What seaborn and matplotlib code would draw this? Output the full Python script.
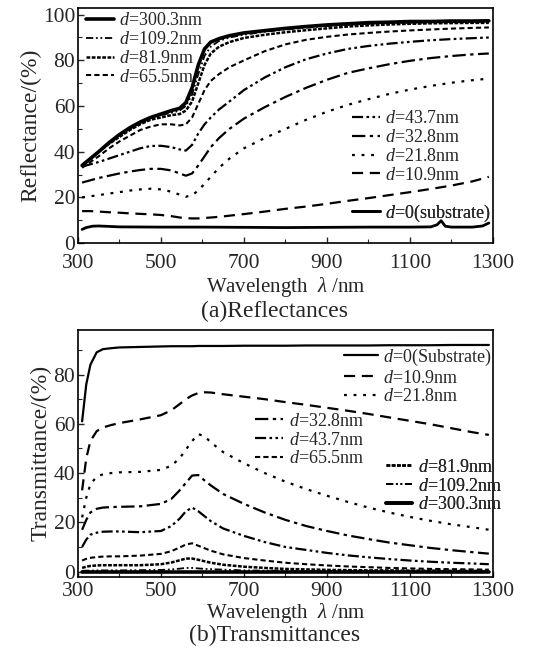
import matplotlib
matplotlib.use('Agg')
import matplotlib.pyplot as plt
import seaborn as sns

# ---- reflectance data (top panel) ----
wl_r = [310, 330, 350, 375, 400, 425, 450, 475, 500, 525, 545, 560, 575, 590, 605, 620,
        640, 665, 700, 750, 800, 850, 900, 950, 1000, 1050, 1100, 1150, 1200, 1250, 1290]
r_300_3 = [34, 37, 40, 44, 47.5, 50.5, 53, 55, 56.5, 58, 59, 61.5, 68, 78, 85, 88,
           89.5, 90.8, 92, 93, 94, 94.8, 95.5, 96, 96.5, 96.7, 97, 97, 97.2, 97.2, 97.3]
r_109_2 = [34, 37, 40, 43.5, 47, 50, 52.5, 54.5, 56, 57, 58, 60, 65, 74, 82, 86,
           88.5, 90, 91.2, 92.5, 93.5, 94.3, 95, 95.5, 96, 96.3, 96.5, 96.6, 96.7, 96.8, 96.8]
r_81_9 = [34, 37, 40, 43.5, 46.5, 49.5, 52, 54, 55, 56, 56.5, 58, 62, 70, 78, 83,
          86, 88, 89.8, 91.2, 92.3, 93.2, 94, 94.8, 95.3, 95.7, 96, 96.2, 96.3, 96.4, 96.4]
r_65_5 = [33, 35.5, 38, 41.5, 44.5, 47, 49.5, 51, 52, 52, 51.5, 52, 55, 61, 67, 71,
          74, 77, 80, 84, 87, 89, 90.3, 91.3, 92, 92.6, 93.1, 93.5, 93.9, 94.2, 94.4]
r_43_7 = [33.5, 34.5, 35.5, 37, 38.5, 40, 41.5, 42.5, 42.6, 42, 41, 40.5, 43, 48, 52, 55,
          58.5, 62, 67, 72.5, 77, 80.5, 83, 85, 86.3, 87.3, 88.1, 88.8, 89.3, 89.7, 90]
r_32_8 = [26.5, 27.5, 28.5, 29.5, 30.5, 31.3, 32, 32.5, 32.5, 31.8, 30.5, 29.5, 30.5, 34, 38, 42,
          46, 50, 54.5, 59.5, 64, 68, 71.5, 74.5, 76.5, 78.3, 79.8, 81, 81.9, 82.6, 83]
r_21_8 = [20, 20.5, 21, 21.7, 22.3, 23, 23.5, 23.8, 23.5, 22.5, 21.2, 20.3, 21, 23, 26, 29,
          33, 37, 41.5, 46, 50, 54, 57.5, 60.5, 63, 65.3, 67.2, 68.8, 70.2, 71.3, 72]
r_10_9 = [14, 14, 13.8, 13.5, 13.3, 13, 12.8, 12.6, 12.3, 11.8, 11.2, 10.9, 10.8, 10.8, 11, 11.2,
          11.5, 12, 12.7, 13.8, 15, 16, 17.2, 18.5, 19.7, 21, 22.3, 23.7, 25.2, 27, 29]
wl_r0 = [310, 320, 335, 350, 400, 500, 600, 700, 800, 900, 1000, 1100, 1150, 1165, 1175, 1185,
         1200, 1250, 1275, 1290]
r_0 = [6, 6.8, 7.4, 7.5, 7.1, 7, 7, 6.9, 6.8, 6.9, 7, 7, 7.1, 8, 9.8, 7.4, 7, 7, 7.5, 8.8]

# ---- transmittance data (bottom panel) ----
wl_t = [310, 320, 330, 345, 360, 380, 400, 450, 500, 525, 545, 560, 575, 590, 605, 620,
        650, 700, 750, 800, 850, 900, 950, 1000, 1050, 1100, 1150, 1200, 1250, 1290]
t_0 = [61, 76, 84, 89, 90.3, 90.7, 91, 91.2, 91.4, 91.5, 91.5, 91.5, 91.5, 91.6, 91.6, 91.6,
       91.6, 91.7, 91.7, 91.7, 91.8, 91.8, 91.8, 91.8, 91.9, 91.9, 91.9, 92, 92, 92]
t_10_9 = [33, 46, 53, 57, 58.5, 59.5, 60.3, 61.8, 63.5, 65.5, 68, 70, 71.5, 72.5, 72.8, 72.7,
          72, 71, 70, 68.8, 67.7, 66.5, 65.3, 64, 62.6, 61.2, 59.8, 58.2, 56.6, 55.5]
t_21_8 = [22, 30, 35.5, 38.5, 39.5, 40, 40.3, 40.5, 41.3, 43, 46, 49.5, 53, 55.8, 55, 52.5,
          48.5, 44, 40, 36.5, 33.5, 30.8, 28.3, 26, 24, 22.2, 20.6, 19.2, 18, 17]
t_32_8 = [17, 21, 24, 25.5, 26, 26.2, 26.3, 26.5, 27.5, 29.5, 33, 36, 39, 39.2, 37, 35,
          31.5, 27.5, 24, 21, 18.5, 16.5, 14.7, 13.2, 11.8, 10.7, 9.6, 8.7, 7.9, 7.3]
t_43_7 = [10, 13, 15, 15.8, 16.2, 16.3, 16.3, 16, 16.5, 18.5, 21.5, 24.5, 26, 24.5, 22.5, 20.5,
          17.5, 14.5, 12, 10, 8.8, 7.6, 6.6, 5.8, 5.1, 4.5, 4, 3.6, 3.3, 3]
t_65_5 = [4.5, 5.2, 5.6, 5.9, 6.1, 6.2, 6.2, 6.5, 7.2, 8.3, 9.8, 11, 11.5, 10.5, 9.5, 8.5,
          7, 5.5, 4.5, 3.6, 3, 2.5, 2.1, 1.8, 1.5, 1.3, 1.1, 1, 0.9, 0.8]
t_81_9 = [1.5, 2, 2.3, 2.5, 2.6, 2.6, 2.6, 2.6, 3, 3.7, 4.6, 5.3, 5.3, 4.8, 4.2, 3.6,
          2.8, 2, 1.5, 1.1, 0.9, 0.7, 0.6, 0.5, 0.5, 0.4, 0.4, 0.3, 0.3, 0.3]
t_109_2 = [0.3, 0.4, 0.4, 0.5, 0.5, 0.5, 0.5, 0.6, 0.7, 0.9, 1.2, 1.5, 1.5, 1.3, 1.1, 1.0,
           0.8, 0.5, 0.4, 0.3, 0.3, 0.2, 0.2, 0.2, 0.2, 0.1, 0.1, 0.1, 0.1, 0.1]
t_300_3 = [0.0] * len(wl_t)

x_ticks = [300, 500, 700, 900, 1100, 1300]

sns.set_style('ticks')
plt.rcParams['font.family'] = ['Liberation Serif', 'DejaVu Serif']
plt.rcParams['mathtext.fontset'] = 'custom'
plt.rcParams['mathtext.rm'] = 'Liberation Serif'
plt.rcParams['mathtext.it'] = 'Liberation Serif:italic'
plt.rcParams['xtick.direction'] = 'in'
plt.rcParams['ytick.direction'] = 'in'

STYLES = {
    '300.3': dict(ls='-', lw=2.6),
    '109.2': dict(ls=(0, (4, 1.5, 1, 1.5, 1, 1.5)), lw=1.3),
    '81.9': dict(ls=(0, (1.5, 0.6)), lw=1.8),
    '65.5': dict(ls=(0, (2.5, 1.5)), lw=1.5),
    '43.7': dict(ls=(0, (5, 1.5, 1.2, 1.5, 1.2, 1.5)), lw=1.6),
    '32.8': dict(ls=(0, (6, 2, 1.5, 2)), lw=1.6),
    '21.8': dict(ls=(0, (1.3, 3)), lw=1.6),
    '10.9': dict(ls=(0, (5, 3)), lw=1.6),
    '0': dict(ls='-', lw=2.0),
}


def draw(ax, x, y, key):
    st = STYLES[key]
    sns.lineplot(x=x, y=y, ax=ax, color='black', linestyle=st['ls'], linewidth=st['lw'])
    return ax.get_lines()[-1]


def label(txt):
    return r'$d$=' + txt


def put_legend(ax, handles, labels, x, y, hl=1.55):
    leg = ax.legend(handles, labels, loc='upper left', bbox_to_anchor=(x, y), frameon=False,
                    fontsize=13, handlelength=hl, handletextpad=0.3, labelspacing=0.1,
                    borderpad=0, borderaxespad=0)
    ax.add_artist(leg)


def style_axes(ax, ylim, yticks, tpad, xpad):
    ax.set_xlim(300, 1300)
    ax.set_ylim(*ylim)
    ax.set_xticks(x_ticks)
    ax.set_xticks(range(400, 1300, 200), minor=True)
    ax.set_yticks(yticks)
    ax.set_yticks(range(10, int(ylim[1]), 20), minor=True)
    ax.tick_params(which='major', length=4, width=1, labelsize=15.5)
    ax.tick_params(axis='x', which='major', pad=tpad)
    ax.tick_params(axis='y', which='major', pad=2)
    ax.tick_params(which='minor', length=3, width=0.8)
    for sp in ax.spines.values():
        sp.set_linewidth(1.2)
        sp.set_color('black')
    ax.set_xlabel(r'Wavelength  $\lambda$ /nm', fontsize=15, labelpad=xpad)


fig = plt.figure(figsize=(5.49, 6.5), dpi=100)
ax1 = fig.add_axes([0.142, 0.626, 0.756, 0.362])
ax2 = fig.add_axes([0.142, 0.113, 0.756, 0.379])

# top panel: reflectances
h = {}
h['300.3'] = draw(ax1, wl_r, r_300_3, '300.3')
h['109.2'] = draw(ax1, wl_r, r_109_2, '109.2')
h['81.9'] = draw(ax1, wl_r, r_81_9, '81.9')
h['65.5'] = draw(ax1, wl_r, r_65_5, '65.5')
h['43.7'] = draw(ax1, wl_r, r_43_7, '43.7')
h['32.8'] = draw(ax1, wl_r, r_32_8, '32.8')
h['21.8'] = draw(ax1, wl_r, r_21_8, '21.8')
h['10.9'] = draw(ax1, wl_r, r_10_9, '10.9')
h['0'] = draw(ax1, wl_r0, r_0, '0')

style_axes(ax1, (0, 103), [0, 20, 40, 60, 80, 100], 8, 1)
ax1.set_ylabel('Reflectance/(%)', fontsize=17, labelpad=1)
put_legend(ax1, [h[k] for k in ['300.3', '109.2', '81.9', '65.5']],
           [label(k + 'nm') for k in ['300.3', '109.2', '81.9', '65.5']], 0.019, 0.981)
put_legend(ax1, [h[k] for k in ['43.7', '32.8', '21.8', '10.9']],
           [label(k + 'nm') for k in ['43.7', '32.8', '21.8', '10.9']], 0.66, 0.564)
put_legend(ax1, [h['0']], [label('0(substrate)')], 0.66, 0.172)
fig.text(0.5, 0.521, '(a)Reflectances', ha='center', va='center', fontsize=17)

# bottom panel: transmittances
g = {}
g['0'] = draw(ax2, wl_t, t_0, '0')
g['10.9'] = draw(ax2, wl_t, t_10_9, '10.9')
g['21.8'] = draw(ax2, wl_t, t_21_8, '21.8')
g['32.8'] = draw(ax2, wl_t, t_32_8, '32.8')
g['43.7'] = draw(ax2, wl_t, t_43_7, '43.7')
g['65.5'] = draw(ax2, wl_t, t_65_5, '65.5')
g['81.9'] = draw(ax2, wl_t, t_81_9, '81.9')
g['109.2'] = draw(ax2, wl_t, t_109_2, '109.2')
g['300.3'] = draw(ax2, wl_t, t_300_3, '300.3')
g['0'].set_linewidth(1.6)

style_axes(ax2, (-2, 98), [0, 20, 40, 60, 80], 4, 0)
ax2.set_ylabel('Transmittance/(%)', fontsize=17, labelpad=1)
put_legend(ax2, [g['0'], g['10.9'], g['21.8']],
           [label('0(Substrate)'), label('10.9nm'), label('21.8nm')], 0.64, 0.933, hl=1.9)
put_legend(ax2, [g['32.8'], g['43.7'], g['65.5']],
           [label('32.8nm'), label('43.7nm'), label('65.5nm')], 0.427, 0.665)
put_legend(ax2, [g['81.9'], g['109.2'], g['300.3']],
           [label('81.9nm'), label('109.2nm'), label('300.3nm')], 0.742, 0.478, hl=1.45)
fig.text(0.5, 0.022, '(b)Transmittances', ha='center', va='center', fontsize=17)

fig.savefig('out.png', dpi=100, facecolor='white')
